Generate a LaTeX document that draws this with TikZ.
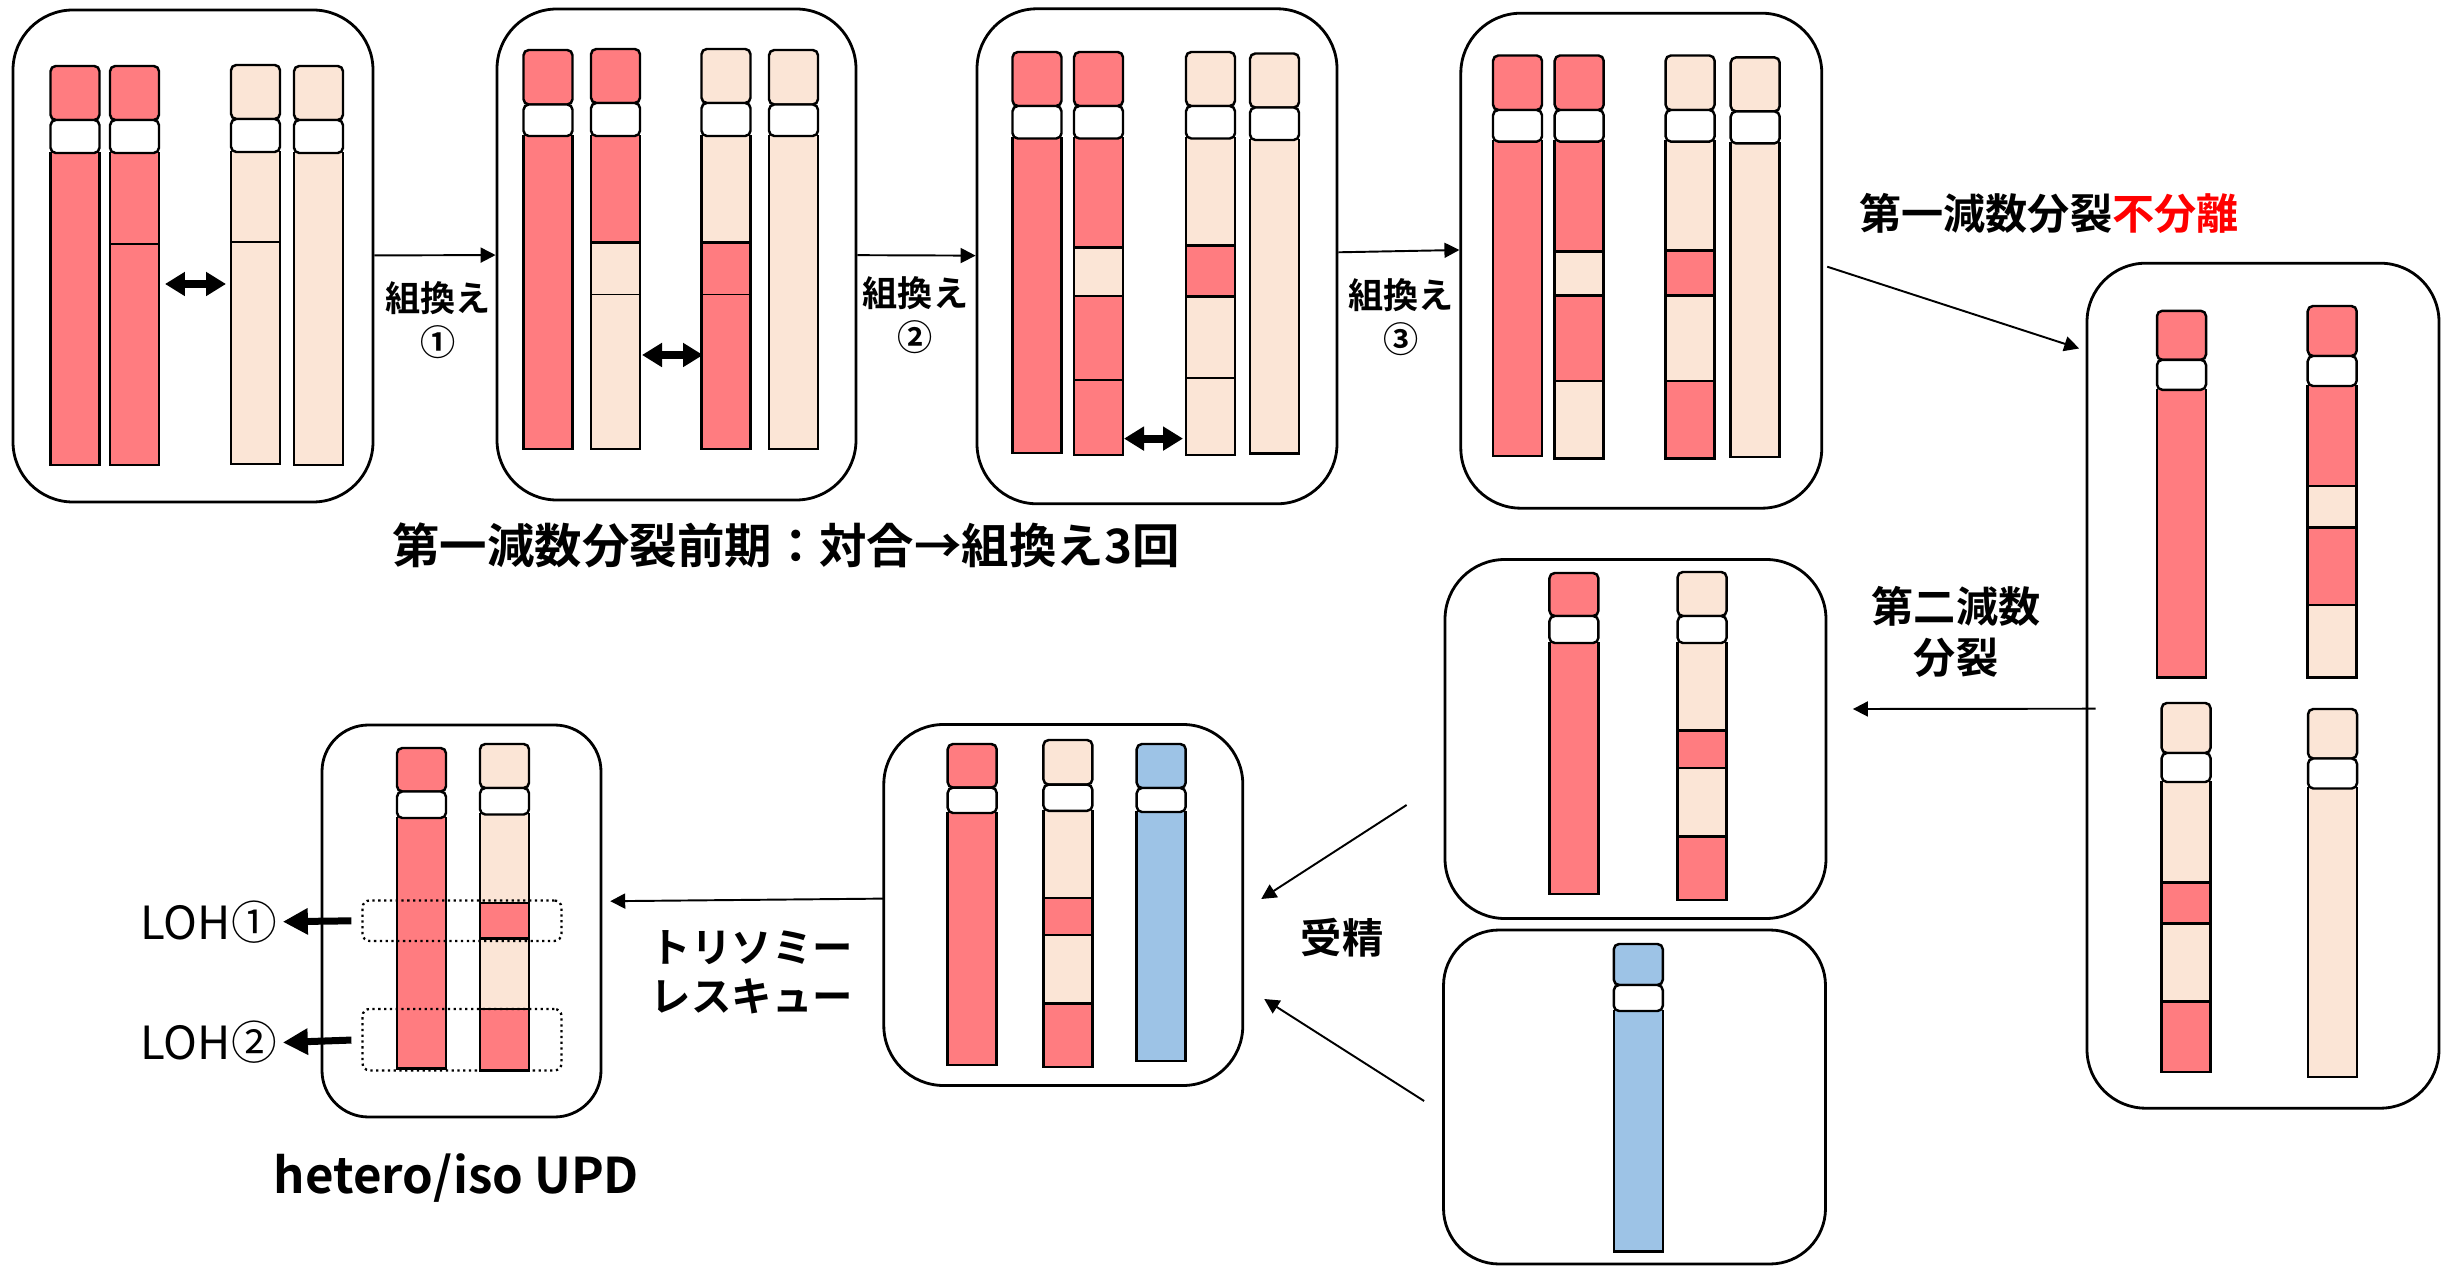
\documentclass[tikz,border=0pt]{standalone}
\usepackage{fontspec}
\setmainfont{Noto Sans CJK JP}[BoldFont=* Bold]
\usetikzlibrary{positioning,arrows.meta}
\definecolor{chrred}{HTML}{FF7C80}
\definecolor{chrcream}{HTML}{FBE5D6}
\definecolor{chrblue}{HTML}{9DC3E6}

% one chromatid: #1 left, #2 top, #3 p-arm height, #4 centromere height,
% #5 p-arm colour, #6 q-arm bands as colour/bottom/edge style
\newcommand{\chromatid}[6]{%
  \foreach \col/\ybot/\edge [remember=\ybot as \ytop (initially #2+#3+#4)] in {#6}
    \fill[\col] (#1,\ytop) rectangle (#1+49,\ybot);
  \foreach \col/\ybot/\edge [remember=\ybot as \ytop (initially #2+#3+#4)] in {#6} {
    \draw[chr] (#1,\ytop) -- (#1,\ybot) (#1+49,\ytop) -- (#1+49,\ybot);
    \draw[chr,\edge] (#1,\ybot) -- (#1+49,\ybot);
  }
  \draw[chr,fill=#5,rounded corners=3pt] (#1,#2) rectangle (#1+49,#2+#3);
  \draw[chr,fill=white,rounded corners=3pt] (#1,#2+#3) rectangle (#1+49,#2+#3+#4);
}

\begin{document}
\begin{tikzpicture}[x=0.02cm,y=-0.02cm,
    panel/.style 2 args={draw,line width=1.6pt,minimum width=#1*0.02cm,
      minimum height=#2*0.02cm,rounded corners={min(#1,#2)/6*0.02cm}},
    chr/.style={draw=black,line width=1.4pt,line cap=rect},
    fine/.style={line width=1pt},
    flow/.style={-{Triangle[length=0.3cm,width=0.3cm]},line width=1.1pt},
    swap/.style={{Triangle[length=0.4cm,width=0.46cm]}-{Triangle[length=0.4cm,width=0.46cm]},line width=4.5pt},
    block/.style={-{Triangle[length=0.5cm,width=0.5cm]},line width=0.14cm},
    loh/.style={draw,line width=1.3pt,dotted,rounded corners=4pt},
    lab/.style 2 args={font=\bfseries\fontsize{#1}{#2}\selectfont,align=center}]
  \useasboundingbox (0,0) rectangle (2441,1266);

  % panels
  \node[panel={360}{492}] (p1) at (193,256) {};
  \node[panel={359}{491}] (p2) at (676.5,254.5) {};
  \node[panel={360}{495}] (p3) at (1157,256.3) {};
  \node[panel={361}{495}] (p4) at (1641.3,260.7) {};
  \node[panel={352}{845}] (p5) at (2263,685.7) {};
  \node[panel={381}{359}] (p6) at (1635.5,739) {};
  \node[panel={382}{334}] (p7) at (1634.5,1097) {};
  \node[panel={279}{392}] (p8) at (461.5,921) {};
  \node[panel={359}{361}] (p9) at (1063.3,905) {};

  % pairing, before any crossover
  \chromatid{50.5}{66}{54}{33}{chrred}{chrred/465/chr}
  \chromatid{110}{66}{54}{33}{chrred}{chrred/244/fine,chrred/465/chr}
  \chromatid{231}{65}{54}{33}{chrcream}{chrcream/242/fine,chrcream/464/chr}
  \chromatid{294}{66}{54}{33}{chrcream}{chrcream/465/chr}
  % after crossover 1
  \chromatid{523.5}{50}{54.5}{31.5}{chrred}{chrred/449/chr}
  \chromatid{591}{49}{54}{33}{chrred}{chrred/242.5/chr,chrcream/294.5/fine,chrcream/449/chr}
  \chromatid{701.5}{49}{54}{33}{chrcream}{chrcream/242.5/chr,chrred/294.5/fine,chrred/449/chr}
  \chromatid{769}{50}{54.5}{31.5}{chrcream}{chrcream/449/chr}
  % after crossover 2
  \chromatid{1012.5}{52}{54}{32.5}{chrred}{chrred/453/chr}
  \chromatid{1074}{52}{54}{32.5}{chrred}{chrred/247.5/chr,chrcream/296/chr,chrred/380/fine,chrred/455/chr}
  \chromatid{1186}{52}{54}{32.5}{chrcream}{chrcream/245.7/chr,chrred/296.4/chr,chrcream/378/fine,chrcream/455/chr}
  \chromatid{1250}{53.5}{54}{32.5}{chrcream}{chrcream/453.5/chr}
  % after crossover 3
  \chromatid{1493}{55.5}{54.5}{31.6}{chrred}{chrred/456/chr}
  \chromatid{1554.7}{55.5}{54.5}{31.6}{chrred}{chrred/251.4/chr,chrcream/295.4/chr,chrred/380.8/chr,chrcream/458.5/chr}
  \chromatid{1665.6}{55.5}{54.5}{31.6}{chrcream}{chrcream/250.7/chr,chrred/295.4/chr,chrcream/380.8/chr,chrred/458.5/chr}
  \chromatid{1730.7}{57.4}{54}{32}{chrcream}{chrcream/457/chr}
  % nondisjunction
  \chromatid{2157}{310.8}{49}{30}{chrred}{chrred/677.5/chr}
  \chromatid{2307.7}{306}{50}{30}{chrred}{chrred/486/chr,chrcream/527.4/chr,chrred/604.8/chr,chrcream/677.5/chr}
  \chromatid{2161.6}{703}{50}{29}{chrcream}{chrcream/882.6/chr,chrred/923.3/chr,chrcream/1001.6/chr,chrred/1072/chr}
  \chromatid{2308}{709}{49.5}{30}{chrcream}{chrcream/1077/chr}
  % egg and sperm
  \chromatid{1549.4}{573}{43}{27}{chrred}{chrred/894/chr}
  \chromatid{1677.6}{572}{44}{27}{chrcream}{chrcream/730.7/chr,chrred/767.8/chr,chrcream/836.3/chr,chrred/900/chr}
  \chromatid{1613.8}{944}{41}{26}{chrblue}{chrblue/1251.6/chr}
  % trisomy
  \chromatid{947.7}{744}{43.6}{25.4}{chrred}{chrred/1065/chr}
  \chromatid{1043.4}{740}{44.6}{26.2}{chrcream}{chrcream/897.9/chr,chrred/935.2/chr,chrcream/1003.6/chr,chrred/1066.8/chr}
  \chromatid{1136.7}{744}{44}{24}{chrblue}{chrblue/1061/chr}
  % rescued
  \chromatid{397}{748}{43.5}{26.5}{chrred}{chrred/1068.6/chr}
  \chromatid{480}{744}{44}{26.5}{chrcream}{chrcream/903/chr,chrred/938.6/chr,chrcream/1008.9/chr,chrred/1070.5/chr}

  % crossover points
  \coordinate (x1a) at (165,284);   \coordinate (x1b) at (226,284);
  \coordinate (x2a) at (642,355);   \coordinate (x2b) at (703,355);
  \coordinate (x3a) at (1124,438.6); \coordinate (x3b) at (1183,438.6);
  \draw[swap] (x1a) -- (x1b);
  \draw[swap] (x2a) -- (x2b);
  \draw[swap] (x3a) -- (x3b);

  % labels
  \node[lab={27pt}{32pt}] (stage) at (786,545) {第一減数分裂前期：対合→組換え3回};
  \node[lab={20pt}{25pt}] (rc1) at (438,320) {組換え\\①};
  \node[lab={20pt}{25pt}] (rc2) at (915.5,315) {組換え\\②};
  \node[lab={20pt}{25pt}] (rc3) at (1401,317) {組換え\\③};
  \node[lab={24pt}{29pt}] (nondis) at (2049,213) {第一減数分裂\textcolor{red}{不分離}};
  \node[lab={24pt}{29pt}] (mei2) at (1956,632) {第二減数\\分裂};
  \node[lab={23.5pt}{28pt}] (fert) at (1342,938) {受精};
  \node[lab={23pt}{28pt}] (rescue) at (752,972) {トリソミー\\レスキュー};
  \node[lab={28pt}{34pt}] (upd) at (456.5,1178) {hetero/iso UPD};

  % LOH regions
  \node[loh,minimum width=3.98cm,minimum height=0.81cm] (r1) at (462,920.7) {};
  \node[loh,minimum width=3.98cm,minimum height=1.23cm] (r2) at (462,1039.7) {};
  \node[font=\fontsize{26pt}{31pt}\selectfont] (l1) at (208.5,921.7) {LOH①};
  \node[font=\fontsize{26pt}{31pt}\selectfont] (l2) at (208.5,1042.5) {LOH②};
  \draw[block,shorten <=0.2cm] (r1.west) -- (l1.east);
  \draw[block,shorten <=0.2cm] (r2.west) -- (l2.east);

  % steps
  \draw[flow] (p1) -- (p2);
  \draw[flow] (p2) -- (p3);
  \draw[flow] ([shift={(0,-4)}]p3.east) -- ([shift={(0,-10.7)}]p4.west);
  \draw[flow] ([shift={(4,6)}]p4.east) -- ([shift={(-6.4,86.7)}]p5.north west);
  \draw[flow] ([shift={(10,23)}]p5.west) -- ([shift={(25.5,-30)}]p6.east);
  \draw[flow] ([shift={(-37,66)}]p6.west) -- ([shift={(17,-6)}]p9.east);
  \draw[flow] ([shift={(-18,4)}]p7.west) -- ([shift={(20,94)}]p9.east);
  \draw[flow] ([shift={(2.5,-6.4)}]p9.west) -- ([shift={(7.8,-19.8)}]p8.east);
\end{tikzpicture}
\end{document}
